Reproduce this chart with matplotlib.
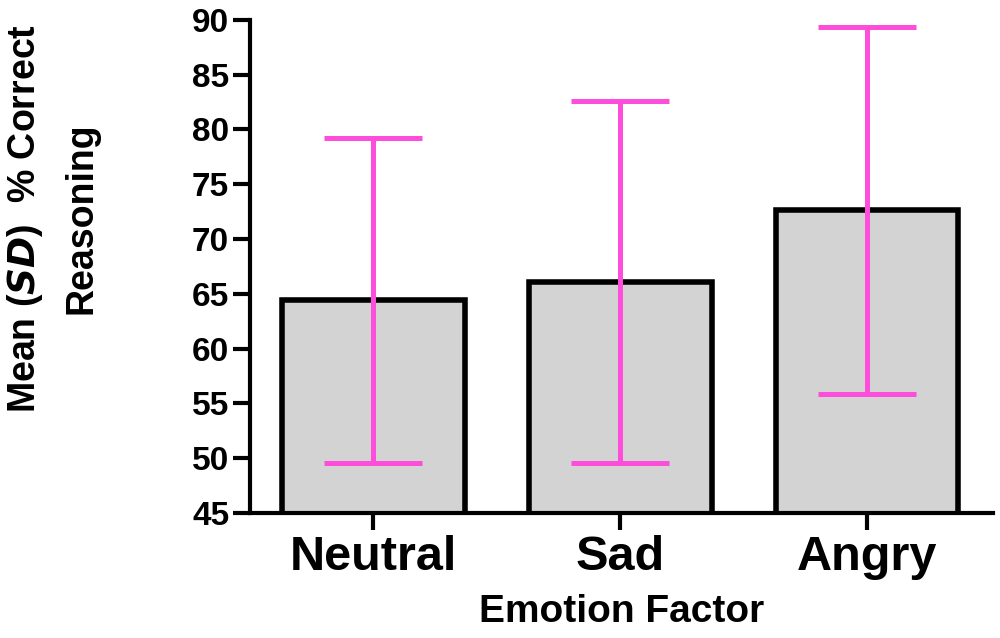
import numpy as np
import matplotlib
matplotlib.use('Agg')
import matplotlib.pyplot as plt

emotions = ['Neutral', 'Sad', 'Angry']
means = [64.4, 66.1, 72.6]
sds = [14.85, 16.5, 16.75]
yticks = [45, 50, 55, 60, 65, 70, 75, 80, 85, 90]

plt.rcParams['font.family'] = ['Liberation Sans', 'DejaVu Sans']
plt.rcParams['font.weight'] = 'bold'

fig = plt.figure(figsize=(10, 6.38), dpi=100)
ax = fig.add_axes([0.25, 0.196, 0.743, 0.773])

x = np.arange(len(emotions))
ax.bar(x, means, width=0.74, color='#d3d3d3', edgecolor='black', linewidth=4, zorder=2)
ax.errorbar(x, means, yerr=sds, fmt='none', ecolor='#ff4ddb', elinewidth=3.6,
            capsize=35, capthick=3.6, zorder=3)

ax.set_xlim(-0.5, 2.51)
ax.set_ylim(45, 90)
ax.set_yticks(yticks)
ax.set_xticks(x)
ax.set_xticklabels(emotions, fontsize=35, fontweight='bold')
ax.tick_params(axis='y', labelsize=24, width=3, length=12, pad=3)
ax.tick_params(axis='x', width=3, length=12, pad=4)
for lab in ax.get_yticklabels():
    lab.set_fontweight('bold')

ax.spines['top'].set_visible(False)
ax.spines['right'].set_visible(False)
ax.spines['left'].set_linewidth(3)
ax.spines['bottom'].set_linewidth(3)

ax.set_xlabel('Emotion Factor', fontsize=28, fontweight='bold', labelpad=10)
fig.text(0.025, 0.658, 'Mean ($\\mathbf{\\it{SD}}$)  % Correct', rotation=90, fontsize=27,
         fontweight='bold', ha='center', va='center')
fig.text(0.081, 0.658, 'Reasoning', rotation=90, fontsize=27,
         fontweight='bold', ha='center', va='center')

fig.savefig('out.png', dpi=100)
